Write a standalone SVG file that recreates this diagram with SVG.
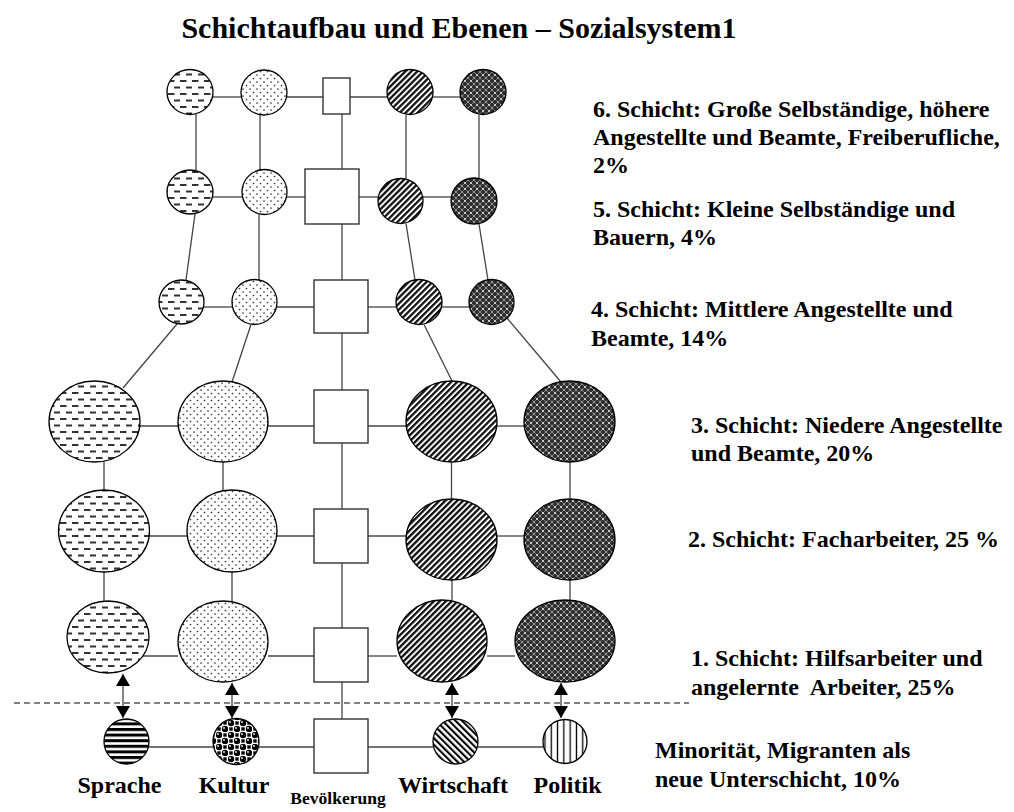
<svg xmlns="http://www.w3.org/2000/svg" width="1014" height="812" viewBox="0 0 1014 812">
<style>
.n{stroke:#000;stroke-width:1.3}
.sq{fill:#fff;stroke:#333;stroke-width:1.4}
.c line{stroke:#444;stroke-width:1.3}
.t{font-family:"Liberation Serif","Times New Roman",serif;font-weight:bold;fill:#000}
.lab{font-size:24px}
.ar{stroke:#000;stroke-width:1.6}
</style>
<defs>
<pattern id="pDash" width="12" height="13" patternUnits="userSpaceOnUse">
<rect width="12" height="13" fill="#fff"/>
<rect x="0" y="2" width="6.5" height="2" fill="#333"/>
<rect x="6" y="8.5" width="6.5" height="2" fill="#333"/>
</pattern>
<pattern id="pDot" width="7" height="7" patternUnits="userSpaceOnUse">
<rect width="7" height="7" fill="#fff"/>
<circle cx="1.5" cy="1.5" r="0.85" fill="#333"/>
<circle cx="5" cy="5" r="0.85" fill="#333"/>
</pattern>
<pattern id="pDiag" width="4.2" height="4.2" patternUnits="userSpaceOnUse" patternTransform="rotate(45)">
<rect width="4.2" height="4.2" fill="#fff"/>
<rect width="2.3" height="4.2" fill="#111"/>
</pattern>
<pattern id="pWeave" width="6" height="6" patternUnits="userSpaceOnUse">
<rect width="6" height="6" fill="#2e2e2e"/>
<path d="M0,0L6,6M6,0L0,6" stroke="#999" stroke-width="0.7"/>
<circle cx="3" cy="3" r="0.9" fill="#f0f0f0"/>
<circle cx="0" cy="0" r="0.7" fill="#ccc"/>
<circle cx="6" cy="0" r="0.7" fill="#ccc"/>
<circle cx="0" cy="6" r="0.7" fill="#ccc"/>
<circle cx="6" cy="6" r="0.7" fill="#ccc"/>
</pattern>
<pattern id="pHStripe" width="6" height="5.6" patternUnits="userSpaceOnUse">
<rect width="6" height="5.6" fill="#fff"/>
<rect width="6" height="3" fill="#000"/>
</pattern>
<pattern id="pBall" width="12" height="12" patternUnits="userSpaceOnUse">
<rect width="12" height="12" fill="#fff"/>
<rect x="7.3" y="1.3" width="3.4" height="3.4" fill="#000"/>
<rect x="1.3" y="7.3" width="3.4" height="3.4" fill="#000"/>
<circle cx="3" cy="3" r="3.2" fill="#000"/>
<circle cx="9" cy="9" r="3.2" fill="#000"/>
<circle cx="2" cy="2" r="0.9" fill="#fff"/>
<circle cx="8" cy="8" r="0.9" fill="#fff"/>
</pattern>
<pattern id="pBDiag" width="4.6" height="4.6" patternUnits="userSpaceOnUse" patternTransform="rotate(-45)">
<rect width="4.6" height="4.6" fill="#fff"/>
<rect width="2.1" height="4.6" fill="#000"/>
</pattern>
<pattern id="pVStripe" width="6.3" height="6" patternUnits="userSpaceOnUse">
<rect width="6.3" height="6" fill="#fff"/>
<rect x="2.5" width="1.3" height="6" fill="#000"/>
</pattern>
<marker id="ah" viewBox="0 0 10 10" refX="10" refY="5" markerUnits="userSpaceOnUse" markerWidth="12" markerHeight="14" orient="auto-start-reverse" preserveAspectRatio="none">
<path d="M0,0L10,5L0,10Z" fill="#000"/>
</marker>
</defs>
<rect width="1014" height="812" fill="#fff"/>
<text class="t" x="459" y="38" font-size="30" text-anchor="middle">Schichtaufbau und Ebenen – Sozialsystem1</text>

<g id="connectors" class="c">
<line x1="213" y1="97" x2="241" y2="97"/>
<line x1="287" y1="97" x2="323" y2="97"/>
<line x1="350" y1="97" x2="387" y2="97"/>
<line x1="433" y1="97" x2="460" y2="97"/>
<line x1="196" y1="114" x2="196" y2="170"/>
<line x1="260" y1="115" x2="260" y2="170"/>
<line x1="342" y1="114" x2="342" y2="169"/>
<line x1="406" y1="115" x2="406" y2="178.5"/>
<line x1="479" y1="115" x2="479" y2="178.5"/>
<line x1="212.5" y1="197" x2="242" y2="197"/>
<line x1="287" y1="197" x2="305" y2="197"/>
<line x1="359" y1="197" x2="378" y2="197"/>
<line x1="423" y1="197" x2="451" y2="197"/>
<line x1="195" y1="214" x2="186" y2="280"/>
<line x1="259" y1="214.5" x2="259" y2="280"/>
<line x1="342" y1="224" x2="342" y2="280"/>
<line x1="406" y1="223.5" x2="415" y2="280"/>
<line x1="479" y1="224" x2="488" y2="280"/>
<line x1="203.5" y1="307" x2="232" y2="307"/>
<line x1="277" y1="307" x2="314" y2="307"/>
<line x1="368" y1="307" x2="396" y2="307"/>
<line x1="442" y1="307" x2="469" y2="307"/>
<line x1="177" y1="324" x2="123" y2="388"/>
<line x1="251" y1="324.5" x2="232" y2="382"/>
<line x1="342" y1="333" x2="342" y2="390"/>
<line x1="424" y1="324.5" x2="452" y2="381"/>
<line x1="507" y1="318" x2="561" y2="382"/>
<line x1="140" y1="426" x2="178" y2="426"/>
<line x1="268" y1="426" x2="314" y2="426"/>
<line x1="368" y1="426" x2="406" y2="426"/>
<line x1="497" y1="426" x2="524" y2="426"/>
<line x1="104" y1="461.5" x2="104" y2="490.5"/>
<line x1="223" y1="462" x2="223" y2="491"/>
<line x1="342" y1="443" x2="342" y2="509"/>
<line x1="451.5" y1="462" x2="451.5" y2="499"/>
<line x1="570" y1="462" x2="570" y2="499"/>
<line x1="149.5" y1="536" x2="187" y2="536"/>
<line x1="277" y1="536" x2="314" y2="536"/>
<line x1="368" y1="536" x2="406" y2="536"/>
<line x1="497" y1="536" x2="524" y2="536"/>
<line x1="104" y1="572" x2="104" y2="601.5"/>
<line x1="232" y1="572" x2="232" y2="601.5"/>
<line x1="342" y1="563" x2="342" y2="628"/>
<line x1="452" y1="580" x2="452" y2="600.5"/>
<line x1="570" y1="580" x2="570" y2="600.5"/>
<line x1="143" y1="656" x2="178" y2="656"/>
<line x1="268" y1="656" x2="314" y2="656"/>
<line x1="368" y1="656" x2="397" y2="656"/>
<line x1="487" y1="656" x2="515" y2="656"/>
<line x1="342" y1="682" x2="342" y2="719"/>
<line x1="148.5" y1="747" x2="213" y2="747"/>
<line x1="259" y1="747" x2="314" y2="747"/>
<line x1="368" y1="747" x2="433" y2="747"/>
<line x1="478" y1="747" x2="543" y2="747"/>
<line class="ar" x1="123" y1="674" x2="123" y2="718" marker-start="url(#ah)" marker-end="url(#ah)"/>
<line class="ar" x1="232" y1="683" x2="232" y2="718" marker-start="url(#ah)" marker-end="url(#ah)"/>
<line class="ar" x1="452" y1="683" x2="452" y2="718" marker-start="url(#ah)" marker-end="url(#ah)"/>
<line class="ar" x1="561" y1="683" x2="561" y2="718" marker-start="url(#ah)" marker-end="url(#ah)"/>
</g>

<g id="separator">
<line x1="14" y1="703" x2="689" y2="703" stroke="#000" stroke-width="1" stroke-dasharray="6 4"/>
</g>

<g id="s6-sprache"><ellipse class="n" cx="190" cy="92" rx="23" ry="22.5" fill="url(#pDash)"/></g>
<g id="s6-kultur"><ellipse class="n" cx="264" cy="92.5" rx="23" ry="22.5" fill="url(#pDot)"/></g>
<g id="s6-bevoelkerung"><rect class="sq" x="323" y="78" width="27" height="36"/></g>
<g id="s6-wirtschaft"><ellipse class="n" cx="410" cy="92" rx="23" ry="22.5" fill="url(#pDiag)"/></g>
<g id="s6-politik"><ellipse class="n" cx="483" cy="92" rx="23" ry="22.5" fill="url(#pWeave)"/></g>

<g id="s5-sprache"><ellipse class="n" cx="190" cy="192" rx="23" ry="22" fill="url(#pDash)"/></g>
<g id="s5-kultur"><ellipse class="n" cx="264.5" cy="192" rx="22.5" ry="22.5" fill="url(#pDot)"/></g>
<g id="s5-bevoelkerung"><rect class="sq" x="305" y="169" width="54" height="55"/></g>
<g id="s5-wirtschaft"><ellipse class="n" cx="400.5" cy="201" rx="22.5" ry="22.5" fill="url(#pDiag)"/></g>
<g id="s5-politik"><ellipse class="n" cx="474" cy="201" rx="23" ry="23" fill="url(#pWeave)"/></g>

<g id="s4-sprache"><ellipse class="n" cx="181.5" cy="302" rx="22.5" ry="22" fill="url(#pDash)"/></g>
<g id="s4-kultur"><ellipse class="n" cx="254.5" cy="302" rx="22.5" ry="22.5" fill="url(#pDot)"/></g>
<g id="s4-bevoelkerung"><rect class="sq" x="314" y="280" width="54" height="53"/></g>
<g id="s4-wirtschaft"><ellipse class="n" cx="419" cy="302" rx="23" ry="22.5" fill="url(#pDiag)"/></g>
<g id="s4-politik"><ellipse class="n" cx="491.5" cy="302" rx="22.5" ry="22.5" fill="url(#pWeave)"/></g>

<g id="s3-sprache"><ellipse class="n" cx="94.5" cy="421.5" rx="45.5" ry="40.5" fill="url(#pDash)"/></g>
<g id="s3-kultur"><ellipse class="n" cx="223" cy="421.5" rx="45" ry="40.5" fill="url(#pDot)"/></g>
<g id="s3-bevoelkerung"><rect class="sq" x="314" y="390" width="54" height="53"/></g>
<g id="s3-wirtschaft"><ellipse class="n" cx="451.5" cy="421.5" rx="45.5" ry="40.5" fill="url(#pDiag)"/></g>
<g id="s3-politik"><ellipse class="n" cx="569.5" cy="421.5" rx="45.5" ry="40.5" fill="url(#pWeave)"/></g>

<g id="s2-sprache"><ellipse class="n" cx="104" cy="531" rx="45.5" ry="41" fill="url(#pDash)"/></g>
<g id="s2-kultur"><ellipse class="n" cx="232" cy="531" rx="45" ry="41" fill="url(#pDot)"/></g>
<g id="s2-bevoelkerung"><rect class="sq" x="314" y="509" width="54" height="54"/></g>
<g id="s2-wirtschaft"><ellipse class="n" cx="451.5" cy="539.5" rx="45.5" ry="40.5" fill="url(#pDiag)"/></g>
<g id="s2-politik"><ellipse class="n" cx="569.5" cy="539.5" rx="45.5" ry="40.5" fill="url(#pWeave)"/></g>

<g id="s1-sprache"><ellipse class="n" cx="108" cy="637" rx="41" ry="36" fill="url(#pDash)"/></g>
<g id="s1-kultur"><ellipse class="n" cx="223" cy="641.5" rx="45" ry="40.5" fill="url(#pDot)"/></g>
<g id="s1-bevoelkerung"><rect class="sq" x="314" y="628" width="54" height="54"/></g>
<g id="s1-wirtschaft"><ellipse class="n" cx="442" cy="641" rx="45" ry="41" fill="url(#pDiag)"/></g>
<g id="s1-politik"><ellipse class="n" cx="565" cy="641" rx="50" ry="41" fill="url(#pWeave)"/></g>

<g id="m-sprache"><circle class="n" cx="126.5" cy="741.5" r="22.5" fill="url(#pHStripe)"/><text class="t lab" x="119.5" y="793" text-anchor="middle">Sprache</text></g>
<g id="m-kultur"><circle class="n" cx="236" cy="741.5" r="23" fill="url(#pBall)"/><text class="t lab" x="234" y="793" text-anchor="middle">Kultur</text></g>
<g id="m-bevoelkerung"><rect class="sq" x="314" y="719" width="54" height="54"/><text class="t" x="338" y="804" font-size="17.5" text-anchor="middle">Bevölkerung</text></g>
<g id="m-wirtschaft"><circle class="n" cx="455.5" cy="741.5" r="22.5" fill="url(#pBDiag)"/><text class="t lab" x="453" y="793" text-anchor="middle">Wirtschaft</text></g>
<g id="m-politik"><circle class="n" cx="565" cy="741.5" r="22" fill="url(#pVStripe)"/><text class="t lab" x="567.5" y="793" text-anchor="middle">Politik</text></g>

<g id="labels" class="t lab">
<text x="593" y="117">6. Schicht: Große Selbständige, höhere</text>
<text x="593" y="145">Angestellte und Beamte, Freiberufliche,</text>
<text x="593" y="173">2%</text>
<text x="593" y="217">5. Schicht: Kleine Selbständige und</text>
<text x="593" y="245">Bauern, 4%</text>
<text x="591" y="317">4. Schicht: Mittlere Angestellte und</text>
<text x="591" y="346">Beamte, 14%</text>
<text x="691" y="433">3. Schicht: Niedere Angestellte</text>
<text x="691" y="461">und Beamte, 20%</text>
<text x="688" y="547">2. Schicht: Facharbeiter, 25 %</text>
<text x="691" y="666">1. Schicht: Hilfsarbeiter und</text>
<text x="691" y="695" xml:space="preserve">angelernte  Arbeiter, 25%</text>
<text x="655" y="758">Minorität, Migranten als</text>
<text x="655" y="787">neue Unterschicht, 10%</text>
</g>
</svg>
